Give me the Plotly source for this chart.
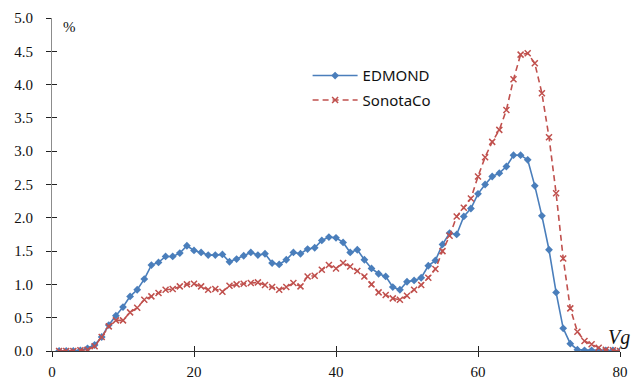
import plotly.graph_objects as go

vg = list(range(1, 81))
edmond = [0.0, 0.0, 0.0, 0.01, 0.04, 0.09, 0.21, 0.39, 0.53, 0.66,
          0.82, 0.92, 1.08, 1.29, 1.33, 1.42, 1.42, 1.47, 1.58, 1.51,
          1.48, 1.44, 1.44, 1.45, 1.34, 1.38, 1.43, 1.48, 1.44, 1.46,
          1.32, 1.30, 1.37, 1.48, 1.46, 1.53, 1.55, 1.66, 1.71, 1.70,
          1.63, 1.48, 1.52, 1.37, 1.24, 1.16, 1.12, 0.96, 0.92, 1.04,
          1.06, 1.10, 1.28, 1.36, 1.60, 1.77, 1.75, 2.02, 2.14, 2.36,
          2.50, 2.62, 2.67, 2.77, 2.94, 2.94, 2.87, 2.48, 2.03, 1.52,
          0.88, 0.34, 0.11, 0.02, 0.01, 0.01, 0.01, 0.01, 0.01, 0.0]
sonotaco = [0.0, 0.0, 0.0, 0.01, 0.02, 0.07, 0.21, 0.37, 0.46, 0.46,
            0.58, 0.65, 0.77, 0.82, 0.87, 0.92, 0.93, 0.97, 1.00, 1.01,
            0.97, 0.92, 0.93, 0.89, 0.98, 1.00, 1.01, 1.02, 1.03, 0.99,
            0.96, 0.92, 0.96, 1.02, 0.97, 1.12, 1.13, 1.22, 1.29, 1.24,
            1.32, 1.27, 1.20, 1.12, 1.00, 0.88, 0.84, 0.79, 0.77, 0.83,
            0.92, 0.99, 1.10, 1.23, 1.50, 1.73, 2.02, 2.15, 2.29, 2.62,
            2.91, 3.14, 3.32, 3.62, 4.08, 4.45, 4.47, 4.32, 3.87, 3.21,
            2.37, 1.39, 0.64, 0.29, 0.15, 0.10, 0.05, 0.02, 0.01, 0.0]
x_ticks = [0, 20, 40, 60, 80]
y_ticks = [0.0, 0.5, 1.0, 1.5, 2.0, 2.5, 3.0, 3.5, 4.0, 4.5, 5.0]

blue = "#4a7ebb"
red = "#c0504d"
serif = "Times New Roman, Liberation Serif, DejaVu Serif, serif"

fig = go.Figure()
fig.add_trace(go.Scatter(
    x=vg, y=edmond, name="EDMOND", mode="lines+markers", legendgroup="a",
    line=dict(color=blue, width=1.6),
    marker=dict(symbol="diamond", size=6, color=blue),
))
fig.add_trace(go.Scatter(
    x=vg, y=sonotaco, name="SonotaCo", mode="lines+markers", legendgroup="b",
    line=dict(color=red, width=1.6, dash="6px,4px"),
    marker=dict(symbol="x-thin", size=6, color=red,
                line=dict(color=red, width=1.5)),
))
# invisible trace so the overlay axes (inner half of crossing ticks) render
fig.add_trace(go.Scatter(x=[0], y=[0], xaxis="x2", yaxis="y2", mode="markers",
                         marker=dict(opacity=0), showlegend=False, hoverinfo="skip"))

axis_common = dict(showgrid=False, zeroline=False, showline=True, automargin=False,
                   ticks="outside", ticklen=5, tickwidth=1, tickcolor="#222")

fig.update_layout(
    width=631, height=380,
    margin=dict(l=52, r=11, t=18, b=29, autoexpand=False),
    plot_bgcolor="white", paper_bgcolor="white",
    font=dict(family=serif),
    showlegend=True,
    legend=dict(x=0.45, y=0.876, xanchor="left", yanchor="top",
                font=dict(family="Noto Sans", size=15, color="#111"),
                bgcolor="rgba(0,0,0,0)", tracegroupgap=2, itemwidth=45),
    xaxis=dict(range=[0, 80], tickvals=x_ticks, linecolor="#333",
               tickfont=dict(family=serif, size=15, color="#111"),
               ticklabelstandoff=2, **axis_common),
    yaxis=dict(range=[0, 5], tickvals=y_ticks, tickformat=".1f", linecolor="#8c8c8c",
               tickfont=dict(family=serif, size=15, color="#111"),
               ticklabelstandoff=10, **axis_common),
    xaxis2=dict(overlaying="x", range=[0, 80], tickvals=x_ticks, automargin=False,
                showticklabels=False, showgrid=False, zeroline=False, showline=False,
                ticks="inside", ticklen=5, tickcolor="#222", side="bottom"),
    yaxis2=dict(overlaying="y", range=[0, 5], tickvals=y_ticks, automargin=False,
                showticklabels=False, showgrid=False, zeroline=False, showline=False,
                ticks="inside", ticklen=5, tickcolor="#222", side="left"),
    annotations=[
        dict(text="%", xref="paper", yref="paper", x=(69 - 52) / 568, y=(351 - 27) / 333,
             xanchor="center", yanchor="middle",
             showarrow=False, font=dict(family=serif, size=15, color="#111")),
        dict(text="<i>Vg</i>", xref="paper", yref="paper", x=(619 - 52) / 568, y=(351 - 337) / 333,
             xanchor="center", yanchor="middle",
             showarrow=False, font=dict(family=serif, size=20, color="#111")),
    ],
)

fig.write_html("out.html")
